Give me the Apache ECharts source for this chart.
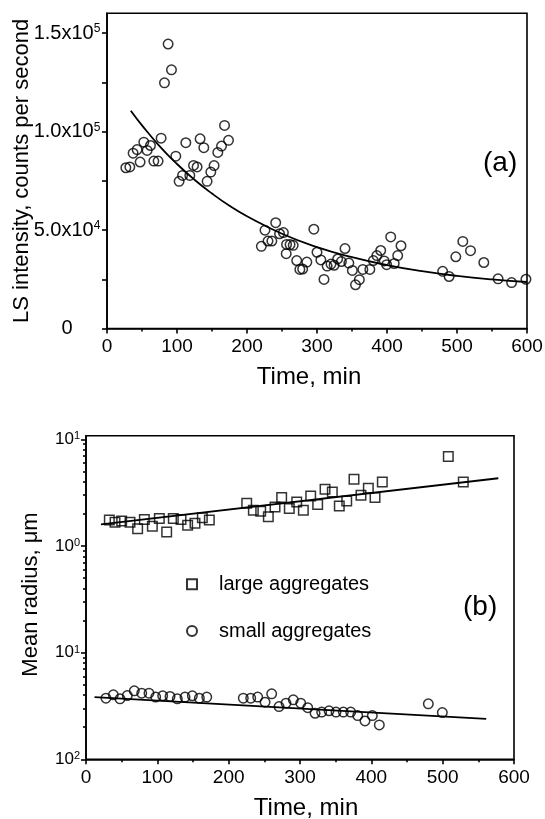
<!DOCTYPE html>
<html><head><meta charset="utf-8">
<script src="https://cdn.jsdelivr.net/npm/echarts@6/dist/echarts.min.js"></script>
<style>html,body{margin:0;padding:0;background:#fff}#c{width:545px;height:819px}</style>
</head><body><div id="c"></div>
<script>
const FONT = "'Liberation Sans', Arial, Helvetica, sans-serif";

// ---------- Panel (a) ----------
const aTime = [26.9,32.6,37.3,43.0,47.3,52.6,57.3,62.1,66.9,73.0,77.3,82.1,87.3,92.1,98.3,103.0,107.9,112.6,118.3,123.6,128.7,133.0,138.3,143.0,148.3,153.0,158.3,163.6,167.9,173.6,
  220.5,225.7,230,235.5,241,246.5,252,256.5,256,261.5,266,271,275.5,279.5,285.5,295.5,300,305.5,310,314.5,320,324.5,329.5,334.8,340,345.5,350.5,355,360.5,365.5,375.5,380.5,385.5,391,396,399.5,405.3,410.3,415.3,420,
  479.5,488.7,498.3,508.3,519.3,538.3,558.7,578,598.5];
const aIntensity = [81600,82000,89000,90800,84500,94600,90400,92900,85000,85000,96600,124700,144400,131300,87500,74700,77700,94300,77700,82800,82000,96300,91800,74700,79400,82700,89400,92600,103100,95500,
  41700,49900,44400,44400,53700,48100,48700,42700,38000,42600,42200,34500,30000,30200,33700,50400,38700,34800,24900,31700,32700,32100,35300,34000,40600,33200,29500,22200,24800,30000,30000,34500,37000,39600,34300,32400,46500,33000,37000,42000,
  29000,26400,36400,44200,39500,33500,25200,23300,25000];
const aFitTime = [34,50,75,100,125,150,175,200,250,300,350,400,450,500,550,600];
const aFitIntensity = [110500,103100,92600,83500,75500,68500,62300,57000,48100,41300,36200,32200,29100,26700,24900,23600];
const aYTicks = [0,50000,100000,150000];
const aYLabelBase = ['0','5.0x10','1.0x10','1.5x10'];
const aYLabelExp = ['','4','5','5'];
const aYTickMarks = [0,25000,50000,75000,100000,125000,150000];

// ---------- Panel (b) ----------
const bLargeTime = [32.7,40.7,50.0,61.7,72.4,81.8,93.0,102.8,113.1,122.4,133.2,142.5,152.8,163.1,172.9,
  225.3,234.6,244.9,255.6,265.0,274.3,285.0,295.4,304.7,315.0,324.8,335.1,345.3,355.1,365.5,375.7,385.5,395.8,405.2,415.4,507.9,528.9];
const bLargeRadius = [1.75,1.67,1.71,1.67,1.45,1.77,1.53,1.81,1.35,1.81,1.77,1.56,1.63,1.84,1.75,
  2.51,2.16,2.12,1.88,2.32,2.84,2.24,2.58,2.16,2.94,2.45,3.40,3.20,2.37,2.64,4.22,2.98,3.47,2.84,3.98,6.89,3.98];
const bSmallTime = [28.0,38.3,47.7,57.9,67.7,78.1,88.3,97.7,107.5,117.8,128.0,138.8,149.1,158.9,169.3,
  220.5,230.9,240.7,251.0,260.3,270.6,280.4,290.6,301.0,310.8,321.1,330.4,340.7,350.5,360.8,371.1,380.9,391.1,401.4,411.2,479.9,499.5];
const bSmallRadius = [0.0374,0.0402,0.0369,0.0396,0.0438,0.0417,0.0417,0.0383,0.0394,0.0388,0.0369,0.0383,0.0394,0.0374,0.0383,
  0.0374,0.0374,0.0383,0.0343,0.0411,0.0312,0.0336,0.0361,0.0336,0.0305,0.0270,0.0277,0.0285,0.0277,0.0277,0.0277,0.0257,0.0229,0.0257,0.0210,0.0331,0.0274];
const bLargeFitTime = [21,578];
const bLargeFitRadius = [1.59,4.31];
const bSmallFitTime = [12,561];
const bSmallFitRadius = [0.0383,0.0239];
const bYTicks = [0.01,0.1,1,10];
const bYLabelExp = ['2','1','0','1'];
const bYMinorTicks = [0.02,0.03,0.04,0.05,0.06,0.07,0.08,0.09,0.2,0.3,0.4,0.5,0.6,0.7,0.8,0.9,2,3,4,5,6,7,8,9];

const zip = (a, b) => a.map((v, i) => [v, b[i]]);
const hollow = {color: 'rgba(255,255,255,0)', borderColor: '#000', borderWidth: 1.5};
const axisStroke = {color: '#000', width: 1.6};
const fitStroke = {color: '#000', width: 1.8};

function xAxisCfg(grid) {
  return {
    gridIndex: grid, type: 'value', min: 0, max: 600, interval: 100,
    axisLine: {lineStyle: axisStroke},
    axisTick: {length: 5, lineStyle: axisStroke},
    minorTick: {show: true, splitNumber: 2, length: 3, lineStyle: axisStroke},
    splitLine: {show: false},
    axisLabel: {color: '#000', fontSize: 19, fontFamily: FONT, margin: 9},
    name: 'Time, min', nameLocation: 'middle', nameGap: 37, nameMoveOverlap: false,
    nameTextStyle: {color: '#000', fontSize: 24, fontFamily: FONT,
      padding: grid === 0 ? [0, 16, 0, 0] : [0, 0, 0, 12]}
  };
}

const option = {
  animation: false,
  backgroundColor: '#fff',
  grid: [
    {left: 107, top: 13.3, width: 420, height: 315.2, show: true, borderColor: '#000', borderWidth: 1.6,
      containLabel: false, outerBoundsMode: 'none'},
    {left: 86, top: 435.7, width: 428, height: 323.6, show: true, borderColor: '#000', borderWidth: 1.6,
      containLabel: false, outerBoundsMode: 'none'}
  ],
  xAxis: [xAxisCfg(0), xAxisCfg(1)],
  yAxis: [
    {
      gridIndex: 0, type: 'value', min: 0, max: 160000,
      axisLine: {lineStyle: axisStroke},
      axisTick: {length: 5, lineStyle: axisStroke, customValues: aYTickMarks},
      splitLine: {show: false},
      axisLabel: {
        customValues: aYTicks, align: 'center', margin: 40, color: '#000',
        formatter: (v) => {
          const i = aYTicks.findIndex(t => Math.abs(t - v) < 1);
          if (i < 0) return '';
          return aYLabelExp[i] ? `{b|${aYLabelBase[i]}}{s|${aYLabelExp[i]}}` : `{b|${aYLabelBase[i]}}`;
        },
        rich: {
          b: {fontSize: 20, fontFamily: FONT, color: '#000'},
          s: {fontSize: 12, fontFamily: FONT, color: '#000', verticalAlign: 'top'}
        }
      },
      name: 'LS intensity, counts per second', nameLocation: 'middle', nameGap: 74, nameMoveOverlap: false,
      nameTextStyle: {color: '#000', fontSize: 22, fontFamily: FONT}
    },
    {
      gridIndex: 1, type: 'log', logBase: 10, min: 0.01, max: 10.8, position: 'left',
      axisLine: {lineStyle: axisStroke},
      axisTick: {length: 5, lineStyle: axisStroke, customValues: bYTicks},
      splitLine: {show: false},
      axisLabel: {
        customValues: bYTicks, align: 'right', margin: 6, color: '#000',
        formatter: (v) => {
          const i = bYTicks.findIndex(t => Math.abs(t - v) / t < 1e-6);
          if (i < 0) return '';
          return `{b|10}{s|${bYLabelExp[i]}}`;
        },
        rich: {
          b: {fontSize: 17, fontFamily: FONT, color: '#000'},
          s: {fontSize: 11, fontFamily: FONT, color: '#000', verticalAlign: 'top'}
        }
      },
      name: 'Mean radius, \u03bcm', nameLocation: 'middle', nameGap: 44, nameMoveOverlap: false,
      nameTextStyle: {color: '#000', fontSize: 22, fontFamily: FONT, padding: [0, 0, 0, 6]}
    },
    {
      gridIndex: 1, type: 'log', logBase: 10, min: 0.01, max: 10.8, position: 'left',
      axisLine: {show: false},
      axisTick: {length: 3, lineStyle: axisStroke, customValues: bYMinorTicks},
      axisLabel: {show: false},
      splitLine: {show: false}
    }
  ],
  legend: {
    data: ['large aggregates', 'small aggregates'],
    orient: 'vertical', left: 186, top: 574.3, padding: 0,
    itemWidth: 10, itemHeight: 10, itemGap: 26.7, selectedMode: false,
    textStyle: {color: '#000', fontSize: 20, fontFamily: FONT, lineHeight: 20, padding: [0, 0, 0, 17]}
  },
  graphic: [
    {type: 'text', left: 483, top: 149, style: {text: '(a)', fill: '#000', fontSize: 28, fontFamily: FONT}},
    {type: 'text', left: 463, top: 593, style: {text: '(b)', fill: '#000', fontSize: 28, fontFamily: FONT}}
  ],
  series: [
    {type: 'line', xAxisIndex: 0, yAxisIndex: 0, data: zip(aFitTime, aFitIntensity), smooth: true,
      showSymbol: false, lineStyle: fitStroke, silent: true, z: 2},
    {type: 'scatter', name: 'LS intensity', xAxisIndex: 0, yAxisIndex: 0, data: zip(aTime, aIntensity),
      symbol: 'circle', symbolSize: 9.5, itemStyle: hollow, z: 3},
    {type: 'line', xAxisIndex: 1, yAxisIndex: 1, data: zip(bLargeFitTime, bLargeFitRadius),
      showSymbol: false, lineStyle: fitStroke, silent: true, z: 2},
    {type: 'line', xAxisIndex: 1, yAxisIndex: 1, data: zip(bSmallFitTime, bSmallFitRadius),
      showSymbol: false, lineStyle: fitStroke, silent: true, z: 2},
    {type: 'scatter', name: 'large aggregates', xAxisIndex: 1, yAxisIndex: 1, data: zip(bLargeTime, bLargeRadius),
      symbol: 'rect', symbolSize: 9.5, itemStyle: hollow, z: 3},
    {type: 'scatter', name: 'small aggregates', xAxisIndex: 1, yAxisIndex: 1, data: zip(bSmallTime, bSmallRadius),
      symbol: 'circle', symbolSize: 9.5, itemStyle: hollow, z: 3}
  ]
};

const chart = echarts.init(document.getElementById('c'), null, {renderer: 'canvas'});
chart.setOption(option);
</script>
</body></html>
